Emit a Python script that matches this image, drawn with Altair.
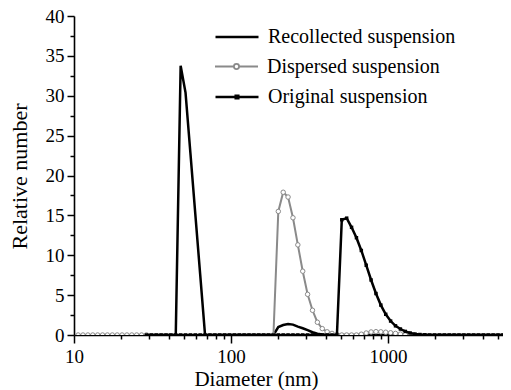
import altair as alt
import pandas as pd

# Diameter bins (nm)
diameter = [10.62, 11.41, 12.26, 13.17, 14.15, 15.20, 16.32, 17.54, 18.84, 20.24,
            21.74, 23.35, 25.08, 26.95, 28.94, 31.09, 33.40, 35.88, 38.55, 41.41,
            44.48, 47.78, 51.33, 55.14, 59.23, 63.63, 68.35, 73.43, 78.89, 84.74,
            91.04, 97.79, 105.1, 112.9, 121.2, 130.2, 139.9, 150.3, 161.4, 173.4,
            186.3, 200.1, 215.0, 230.9, 248.1, 266.5, 286.3, 307.5, 330.4, 354.9,
            381.3, 409.6, 440.0, 472.7, 507.7, 545.5, 586.0, 629.5, 676.1, 726.4,
            780.3, 838.2, 900.4, 967.2, 1039, 1116, 1199, 1288, 1384, 1486,
            1597, 1715, 1843, 1980, 2127, 2284, 2454, 2636, 2831, 3041,
            3267, 3510, 3770, 4050, 4351, 4674, 5020, 5393, 5794, 6223]

N = None
recollected = [N, N, N, N, N, N, N, N, N, N,
               N, N, N, N, 0, 0, 0, 0, 0, 0,
               0, 33.75, 30.4, 22.8, 15.2, 7.6, 0, 0, 0, 0,
               0, 0, 0, 0, 0, 0, 0, 0, 0, 0,
               0, 1.0, 1.25, 1.37, 1.3, 1.05, 0.85, 0.6, 0.35, 0.15,
               0.05, 0, 0, 0, 0, 0, 0, 0, 0, 0,
               0, 0, 0, 0, 0, 0, 0, 0, 0, 0,
               0, 0, 0, 0, 0, 0, 0, 0, 0, 0,
               0, 0, 0, 0, 0, 0, 0, 0, 0, 0]

dispersed = [0, 0, 0, 0, 0, 0, 0, 0, 0, 0,
             0, 0, 0, 0, 0, N, N, N, N, N,
             N, N, N, N, N, N, N, N, N, N,
             N, N, N, N, N, N, N, N, N, N,
             0, 15.5, 17.9, 17.3, 14.7, 11.3, 8.0, 5.1, 3.1, 1.6,
             0.8, 0.4, 0.2, 0.05, 0, 0, 0, 0, 0.1, 0.25,
             0.38, 0.42, 0.4, 0.35, 0.28, 0.2, 0.12, 0.05, 0, N,
             N, N, N, N, N, N, N, N, N, N,
             N, N, N, N, N, N, N, N, N, N]

original = [N, N, N, N, N, N, N, N, N, N,
            N, N, N, N, 0, 0, 0, 0, 0, 0,
            0, 0, 0, 0, 0, 0, 0, 0, 0, 0,
            0, 0, 0, 0, 0, 0, 0, 0, 0, 0,
            0, 0, 0, 0, 0, 0, 0, 0, 0, 0,
            0, 0, 0, 0, 14.45, 14.65, 13.5, 12.2, 10.6, 8.75,
            6.9, 5.2, 3.75, 2.6, 1.75, 1.15, 0.75, 0.45, 0.25, 0.12,
            0.06, 0.03, 0, 0, 0, 0, 0, 0, 0, 0,
            0, 0, 0, 0, 0, 0, 0, 0, 0, 0]

series_names = ["Recollected suspension", "Dispersed suspension", "Original suspension"]
x_ticks = [10, 20, 30, 40, 50, 60, 70, 80, 90, 100, 200, 300, 400, 500, 600, 700,
           800, 900, 1000, 2000, 3000, 4000, 5000]
y_ticks = [0, 2.5, 5, 7.5, 10, 12.5, 15, 17.5, 20, 22.5, 25, 27.5, 30, 32.5, 35, 37.5, 40]


def frame(values, name):
    rows = [{"d": d, "v": v, "series": name} for d, v in zip(diameter, values) if v is not None]
    return pd.DataFrame(rows)


df_rec = frame(recollected, series_names[0])
df_dis = frame(dispersed, series_names[1])
df_ori = frame(original, series_names[2])

FONT = "Liberation Serif"
GRAY = "#8a8a8a"

x_enc = alt.X(
    "d:Q",
    scale=alt.Scale(type="log", domain=[10, 5400], nice=False),
    axis=alt.Axis(
        title="Diameter (nm)",
        values=x_ticks,
        format="d",
        labelExpr="indexof([10,100,1000], datum.value) >= 0 ? datum.label : ''",
        tickSize={"condition": {"test": "indexof([10,100,1000], datum.value) >= 0", "value": 8}, "value": 4},
        labelFont=FONT, labelFontSize=19, labelPadding=4, labelFlush=False,
        titleX=182, titleY=44, titleAlign="center", titleBaseline="middle", titleFontSize=21,
    ),
)
y_enc = alt.Y(
    "v:Q",
    scale=alt.Scale(domain=[0, 40], nice=False),
    axis=alt.Axis(
        title="Relative number",
        values=y_ticks,
        labelExpr="datum.value % 5 == 0 ? datum.label : ''",
        tickSize={"condition": {"test": "datum.value % 5 == 0", "value": 7}, "value": 4},
        labelFont=FONT, labelFontSize=19, labelPadding=3, labelFlush=False,
        titleX=-55, titleY=160, titleAlign="center", titleBaseline="middle", titleFontSize=22,
    ),
)

legend_common = dict(
    title=None, orient="none", legendX=140, symbolSize=1849, labelFont=FONT,
    labelFontSize=20, labelColor="black", labelOffset=8, padding=0, labelLimit=0,
)

rec_line = alt.Chart(df_rec).mark_line(strokeWidth=2.5, clip=True).encode(
    x=x_enc, y=y_enc,
    color=alt.Color("series:N", scale=alt.Scale(range=["black"]),
                    legend=alt.Legend(legendY=-2, symbolType="stroke", symbolStrokeWidth=2.5,
                                      **legend_common)),
)

dis_line = alt.Chart(df_dis).mark_line(strokeWidth=2, color=GRAY, clip=True).encode(x=x_enc, y=y_enc)
dis_pts = alt.Chart(df_dis).mark_point(shape="circle", filled=False, fill="white", size=20,
                                       strokeWidth=1, opacity=1, clip=True).encode(
    x=x_enc, y=y_enc,
    color=alt.Color("series:N", scale=alt.Scale(range=[GRAY]),
                    legend=alt.Legend(
                        legendY=28,
                        symbolType="M-1,0H-0.12M0.12,0H1M-0.12,0A0.12,0.12,0,1,1,0.12,0A0.12,0.12,0,1,1,-0.12,0",
                        symbolStrokeWidth=1.8, symbolFillColor="white", **legend_common)),
)

ori_line = alt.Chart(df_ori).mark_line(strokeWidth=2.5, color="black", clip=True).encode(x=x_enc, y=y_enc)
ori_pts = alt.Chart(df_ori).mark_square(filled=True, size=12, opacity=1, clip=True).encode(
    x=x_enc, y=y_enc,
    color=alt.Color("series:N", scale=alt.Scale(range=["black"]),
                    legend=alt.Legend(
                        legendY=58,
                        symbolType="M-1,0H1M-0.06,-0.06H0.06V0.06H-0.06Z",
                        symbolStrokeWidth=2.5, symbolStrokeColor="black", **legend_common)),
)

chart = alt.layer(rec_line, dis_line, dis_pts, ori_line, ori_pts).resolve_scale(
    color="independent"
).resolve_legend(color="independent").properties(
    width=429, height=319,
    autosize=alt.AutoSizeParams(type="none"),
    padding={"left": 66, "top": 8, "right": 0, "bottom": 55},
    background="white",
).configure_view(stroke=None).configure_axis(
    grid=False, domainColor="black", domainWidth=1.6, tickColor="black", tickWidth=1.5,
    labelFont=FONT, labelFontSize=19, labelColor="black",
    titleFont=FONT, titleFontSize=22, titleFontWeight="normal", titleColor="black",
)
chart.config.style = {
    "guide-label": {"font": FONT, "fontSize": 19, "fill": "black"},
    "guide-title": {"font": FONT, "fontWeight": "normal", "fill": "black"},
}

chart.save("out.html", embed_options={"renderer": "svg", "actions": False})
